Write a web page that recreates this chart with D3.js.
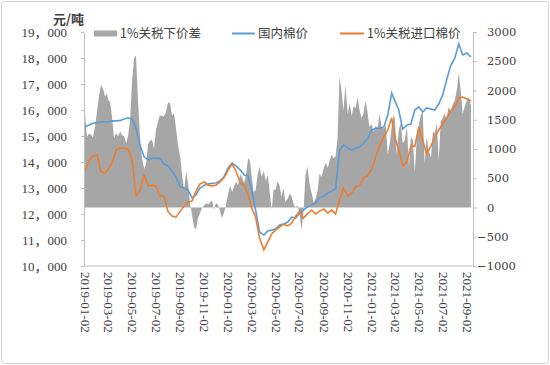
<!DOCTYPE html>
<html>
<head>
<meta charset="utf-8">
<script src="https://cdn.jsdelivr.net/npm/d3@7"></script>
<style>
  body { margin: 0; background: #fff; }
  text { fill: #404040; }
</style>
</head>
<body>
<svg id="chart"></svg>
<script>
const months = [
  "2019-01","2019-02","2019-03","2019-04","2019-05","2019-06","2019-07","2019-08","2019-09","2019-10","2019-11","2019-12",
  "2020-01","2020-02","2020-03","2020-04","2020-05","2020-06","2020-07","2020-08","2020-09","2020-10","2020-11","2020-12",
  "2021-01","2021-02","2021-03","2021-04","2021-05","2021-06","2021-07","2021-08","2021-09"
];
const lineDays = ["02", "12", "22"];
const spreadDays = ["02", "07", "12", "17", "22", "27"];

// 国内棉价 (元/吨), three readings a month
const domestic = [
  15360,15420,15490,15520,15540,15540,15550,15580,15580,15600,15650,15700,
  15650,15310,14650,14190,14080,14150,14140,14150,13920,13850,13650,13420,
  13040,13000,12920,12620,12730,13000,13110,13150,13180,13190,13270,13420,
  13770,13960,13850,13690,13500,13460,12920,12150,11310,11190,11350,11380,
  11420,11580,11610,11690,11880,11840,12040,12150,12270,12350,12420,12620,
  12690,12800,12880,12980,14460,14650,14540,14460,14540,14580,14720,14880,
  15230,15300,15300,15350,15810,16650,16350,16000,15270,15420,15460,16000,
  16120,15920,16080,16040,16000,16230,16580,17150,17690,18000,18540,18115,
  18190,18040
];

// 1%关税进口棉价 (元/吨)
const imported = [
  13650,14040,14230,14270,13610,13580,13730,13960,14460,14540,14540,14500,
  14080,12690,12920,13500,13080,13110,13080,12690,12690,12080,11920,11880,
  12110,12310,12460,12500,12880,13150,13230,13110,13080,13110,13230,13380,
  13690,13920,13650,13190,13110,12730,12230,11880,11080,10620,10920,11230,
  11380,11500,11610,11540,11650,11920,12110,11840,12000,12150,12000,12110,
  12190,12040,12150,12000,12540,13000,12690,12810,13040,13110,13380,13460,
  13730,14190,14610,14960,15230,15690,14960,14460,13850,14000,14610,14610,
  15350,14850,14310,14610,14960,15230,15460,15690,15960,16120,16460,16500,
  16420,16350
];

// 1%关税下价差 (右轴), six readings a month
const spread = [
  1600,1210,1260,1250,1200,1360,  1660,1920,2100,2030,1900,1950,  1840,1800,1550,1180,1270,1220,
  1300,1230,1220,1100,1230,1500,  2150,2550,2600,1850,1250,850,   660,760,1080,1150,1150,1000,
  1330,1460,1580,1560,1560,1620,  1800,1780,1570,1610,1350,1080,  850,520,300,620,400,60,
  -130,-330,-380,-190,-100,-10,   40,72,50,90,120,-40,            72,50,-50,-180,-100,30,
  230,380,260,356,440,380,        570,500,420,580,850,780,        527,260,300,550,700,527,
  620,450,560,250,-40,310,        300,450,380,185,330,100,        150,240,185,60,0,40,
  -120,-385,-100,550,700,420,     242,80,150,280,580,520,         680,760,680,812,900,840,
  880,1200,2235,2000,1650,2100,   1600,1780,1570,1730,1700,1880,  1666,1530,1600,1830,1650,1381,
  1420,1300,1400,1350,1610,1380,  1350,1400,900,1096,1380,1580,   1530,900,1325,1450,1100,1150,
  1381,700,1200,1153,600,1210,    1400,1580,1650,750,1210,983,    850,1300,1268,1439,800,1470,
  1530,1610,1495,1722,1650,1750,  1837,2008,2293,2000,1600,1722,  1837,1880,1750
];

const leftTicks = [10000, 11000, 12000, 13000, 14000, 15000, 16000, 17000, 18000, 19000];
const rightTicks = [-1000, -500, 0, 500, 1000, 1500, 2000, 2500, 3000];
const tickDates = ["2019-01-02","2019-03-02","2019-05-02","2019-07-02","2019-09-02","2019-11-02",
  "2020-01-02","2020-03-02","2020-05-02","2020-07-02","2020-09-02","2020-11-02",
  "2021-01-02","2021-03-02","2021-05-02","2021-07-02","2021-09-02"];

const parse = d3.timeParse("%Y-%m-%d");
const lineDates = months.flatMap(m => lineDays.map(d => parse(`${m}-${d}`)));
const spreadDates = months.flatMap(m => spreadDays.map(d => parse(`${m}-${d}`)));
const lineData = domestic.map((v, i) => ({ date: lineDates[i], dom: v, imp: imported[i] }));
const spreadData = spread.map((v, i) => ({ date: spreadDates[i], diff: v }));

const width = 550, height = 365;
const plot = { left: 84, right: 473, top: 32, bottom: 266 };
const serif = "'Liberation Serif', 'Noto Sans CJK SC', serif";

const svg = d3.select("#chart").attr("width", width).attr("height", height);

svg.append("rect").attr("x", 1.5).attr("y", 1.5).attr("width", width - 3).attr("height", height - 3)
  .attr("rx", 3).attr("fill", "#fff").attr("stroke", "#d0d0d0");

const x = d3.scaleTime().domain([parse("2019-01-02"), parse("2021-09-02")]).range([85, 467]);
const yL = d3.scaleLinear().domain([10000, 19000]).range([plot.bottom, plot.top]);
const yR = d3.scaleLinear().domain([-1000, 3000]).range([plot.bottom, plot.top]);

const area = d3.area().x(d => x(d.date)).y0(yR(0)).y1(d => yR(d.diff));
svg.append("path").datum(spreadData).attr("d", area).attr("fill", "#a6a6a6");

const lineDom = d3.line().x(d => x(d.date)).y(d => yL(d.dom));
const lineImp = d3.line().x(d => x(d.date)).y(d => yL(d.imp));
svg.append("path").datum(lineData).attr("d", lineDom).attr("fill", "none").attr("stroke", "#5b9bd5").attr("stroke-width", 1.6);
svg.append("path").datum(lineData).attr("d", lineImp).attr("fill", "none").attr("stroke", "#ed7d31").attr("stroke-width", 1.6);

const styleAxis = g => {
  g.select(".domain").attr("stroke", "#bfbfbf");
  g.selectAll(".tick line").attr("stroke", "#bfbfbf");
  g.selectAll(".tick text").attr("fill", "#404040");
};

svg.append("g").attr("transform", `translate(${plot.left},0)`)
  .call(d3.axisLeft(yL).tickValues(leftTicks).tickSize(3).tickSizeOuter(0).tickPadding(14)
    .tickFormat(d => d3.format(",")(d).replace(",", "，")))
  .call(styleAxis)
  .selectAll("text").style("font-family", serif).style("font-size", "13px");

svg.append("g").attr("transform", `translate(${plot.right},0)`)
  .call(d3.axisRight(yR).tickValues(rightTicks).tickSize(4).tickSizeOuter(0).tickPadding(10)
    .tickFormat(d => d < 0 ? "−" + Math.abs(d) : d))
  .call(styleAxis)
  .selectAll("text").attr("x", d => d < 0 ? 4 : 14)
  .style("font-family", "'DejaVu Serif', serif").style("font-size", "11.5px");

svg.append("line").attr("x1", plot.left).attr("x2", plot.right).attr("y1", plot.bottom).attr("y2", plot.bottom)
  .attr("stroke", "#bfbfbf");

svg.append("g").attr("transform", `translate(0,${plot.bottom})`)
  .call(d3.axisBottom(x).tickValues(tickDates.map(parse)).tickSize(0).tickFormat(d3.timeFormat("%Y-%m-%d")))
  .call(g => g.select(".domain").remove())
  .selectAll("text").attr("transform", "rotate(90)").attr("x", 6).attr("y", 0).attr("dy", "0.35em")
  .attr("text-anchor", "start").attr("fill", "#404040")
  .style("font-family", serif).style("font-size", "13px");

svg.append("text").attr("x", 53).attr("y", 23.5).text("元/吨")
  .style("font-family", "'Noto Sans CJK SC', sans-serif").style("font-size", "13px").style("font-weight", "bold");

// legend
const legend = svg.append("g").style("font-family", "'Noto Sans CJK SC', sans-serif").style("font-size", "12.5px");
legend.append("rect").attr("x", 94).attr("y", 30.5).attr("width", 23).attr("height", 6).attr("fill", "#a6a6a6");
legend.append("text").attr("x", 120).attr("y", 37.5).text("1%关税下价差");
legend.append("line").attr("x1", 232).attr("x2", 255).attr("y1", 33.5).attr("y2", 33.5).attr("stroke", "#5b9bd5").attr("stroke-width", 2);
legend.append("text").attr("x", 258).attr("y", 37.5).text("国内棉价");
legend.append("line").attr("x1", 340).attr("x2", 364).attr("y1", 33.5).attr("y2", 33.5).attr("stroke", "#ed7d31").attr("stroke-width", 2);
legend.append("text").attr("x", 367).attr("y", 37.5).text("1%关税进口棉价");
</script>
</body>
</html>
